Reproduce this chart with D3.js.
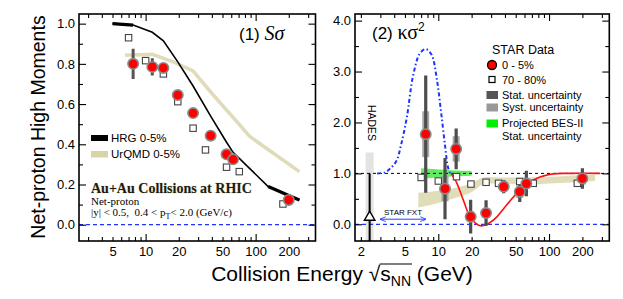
<!DOCTYPE html>
<html>
<head>
<meta charset="utf-8">
<script src="https://cdn.jsdelivr.net/npm/d3@7"></script>
<style>
  body { margin: 0; background: #fff; }
  svg { display: block; font-family: "Liberation Sans", Arial, sans-serif; }
</style>
</head>
<body>
<svg id="chart" width="623" height="299"></svg>
<script>
// beam energies of the STAR points (GeV)
const energies = [7.7, 11.5, 14.5, 19.6, 27, 39, 54.4, 62.4, 200];

// panel 1: S*sigma
const sSigma = [0.80, 0.785, 0.78, 0.645, 0.555, 0.443, 0.350, 0.325, 0.123];
const sSigmaStat = [0.075, 0.043, 0.02, 0.012, 0.01, 0.008, 0.008, 0.008, 0.005];
const sPeriphE = [7.0, 10, 14.5, 19.6, 27, 35, 54.4, 71, 177];
const sPeriph = [0.93, 0.816, 0.75, 0.612, 0.48, 0.372, 0.286, 0.264, 0.103];
const hrgE = [5, 7.7, 11.5, 14.5, 19.6, 27, 39, 54.4, 62.4, 88, 130, 200, 250];
const hrgS = [1.0, 0.993, 0.957, 0.915, 0.81, 0.69, 0.54, 0.41, 0.36, 0.28, 0.19, 0.145, 0.123];
const urqmdE = [6.5, 11.5, 17.8, 27, 39, 62, 88, 125, 250];
const urqmdS = [0.843, 0.847, 0.81, 0.765, 0.66, 0.535, 0.44, 0.38, 0.264];

// panel 2: kappa*sigma^2
const kSigma = [1.77, 0.70, 1.48, 0.15, 0.22, 0.74, 0.64, 0.80, 0.90];
const kStat = [1.15, 0.6, 0.4, 0.33, 0.25, 0.13, 0.2, 0.25, 0.2];
const kSyst = [0.45, 0.25, 0.25, 0.1, 0.08, 0.1, 0.12, 0.1, 0.12];
const kPeriphE = [7.0, 10, 14.6, 19.7, 27, 35, 54.4, 72, 180];
const kPeriph = [0.92, 0.85, 0.935, 0.79, 0.825, 0.805, 0.84, 0.805, 0.805];
const fitE = [13, 14.5, 16.8, 19.3, 21.5, 24, 27, 30, 34, 39, 54.7, 77, 109, 155, 290];
const fitK = [1.0, 0.84, 0.48, 0.15, 0.03, -0.03, -0.01, 0.05, 0.15, 0.31, 0.67, 0.90, 0.99, 1.0, 1.0];
const peakE = [2.8, 3.3, 3.7, 4.2, 4.6, 5.2, 5.9, 6.8, 7.7, 8.7, 9.7, 10.6, 11.5, 12.2, 12.8];
const peakK = [1.0, 1.02, 1.1, 1.25, 1.55, 2.1, 2.9, 3.35, 3.44, 3.33, 2.85, 2.2, 1.55, 1.13, 1.0];
const bandE = [6.6, 10, 14.5, 19.6, 27, 39, 62.4, 100, 200, 260];
const bandHi = [0.62, 0.66, 0.72, 0.80, 0.93, 0.92, 0.92, 0.93, 0.97, 0.98];
const bandLo = [0.33, 0.42, 0.52, 0.62, 0.80, 0.80, 0.78, 0.80, 0.83, 0.85];
const besE = [7, 9, 11.5, 14.5, 20];
const besErr = [0.1, 0.085, 0.07, 0.055, 0.045];
const hades = {e: 2.4, k: 0.14, statHi: 1.0, systHi: 1.41};
const fxtE = [3.0, 7.7];
const fxtK = 0.1;

const xTicksL = [5, 10, 20, 50, 100, 200];
const xTicksR = [2, 5, 10, 20, 50, 100, 200];
const decades = [10, 100];

const svg = d3.select('#chart');
const yTop = 14, yBottom = 241;

const xL = d3.scaleLog().domain([2.48, 350]).range([79, 315.5]);
const yL = d3.scaleLinear().domain([-0.081, 1.048]).range([yBottom, yTop]);
const xR = d3.scaleLog().domain([1.77, 350]).range([355, 609.3]);
const yR = d3.scaleLinear().domain([-0.328, 4.13]).range([yBottom, yTop]);

function minorLog(x) {
  let out = [];
  const [a, b] = x.domain();
  for (let p = 1; p <= 100; p *= 10)
    for (let m = 1; m < 10; m++) {
      const v = m * p;
      if (v >= a && v <= b && !decades.includes(v)) out.push(v);
    }
  return out;
}

function frame(x, y, xLabels, yMajor, yMinor, fmtY) {
  const g = svg.append('g');
  const [x0, x1] = x.range();
  const [y0, y1] = y.range();
  const ax = (gen, tr) => {
    const a = g.append('g').attr('transform', tr).call(gen);
    a.select('.domain').remove();
    a.selectAll('line').attr('stroke', '#000').attr('stroke-width', 1.1);
    a.selectAll('text').attr('font-size', 13).attr('fill', '#000')
      .attr('font-family', '"Liberation Sans", Arial, sans-serif');
    return a;
  };
  ax(d3.axisBottom(x).tickValues(xLabels).tickSize(0).tickPadding(6).tickFormat(d3.format('d')), `translate(0,${y0})`);
  ax(d3.axisBottom(x).tickValues(decades).tickSize(-7).tickFormat(''), `translate(0,${y0})`);
  ax(d3.axisBottom(x).tickValues(minorLog(x)).tickSize(-4).tickFormat(''), `translate(0,${y0})`);
  ax(d3.axisTop(x).tickValues(decades).tickSize(-7).tickFormat(''), `translate(0,${y1})`);
  ax(d3.axisTop(x).tickValues(minorLog(x)).tickSize(-4).tickFormat(''), `translate(0,${y1})`);
  ax(d3.axisLeft(y).tickValues(yMajor).tickSize(-7).tickPadding(4).tickFormat(fmtY), `translate(${x0},0)`);
  ax(d3.axisLeft(y).tickValues(yMinor).tickSize(-4).tickFormat(''), `translate(${x0},0)`);
  ax(d3.axisRight(y).tickValues(yMajor).tickSize(-7).tickFormat(''), `translate(${x1},0)`);
  ax(d3.axisRight(y).tickValues(yMinor).tickSize(-4).tickFormat(''), `translate(${x1},0)`);
  g.append('rect')
    .attr('x', x0).attr('y', y1).attr('width', x1 - x0).attr('height', y0 - y1)
    .attr('fill', 'none').attr('stroke', '#000').attr('stroke-width', 1.6);
}

function clip(id, x, y) {
  svg.append('clipPath').attr('id', id).append('rect')
    .attr('x', x.range()[0]).attr('y', y.range()[1])
    .attr('width', x.range()[1] - x.range()[0]).attr('height', y.range()[0] - y.range()[1]);
  return svg.append('g').attr('clip-path', `url(#${id})`);
}

// ---------- panel 1 ----------
const p1 = clip('c1', xL, yL);

p1.append('path')
  .datum(urqmdE.map((e, i) => [e, urqmdS[i]]))
  .attr('fill', 'none').attr('stroke', '#e0dbbb').attr('stroke-width', 3.6)
  .attr('d', d3.line().x(d => xL(d[0])).y(d => yL(d[1])));

const hrg = hrgE.map((e, i) => [e, hrgS[i]]);
const hrgLine = d3.line().x(d => xL(d[0])).y(d => yL(d[1]));
p1.append('path').datum(hrg)
  .attr('fill', 'none').attr('stroke', '#000').attr('stroke-width', 1.6).attr('d', hrgLine);
[hrg.slice(0, 2), hrg.slice(10)].forEach(seg =>
  p1.append('path').datum(seg)
    .attr('fill', 'none').attr('stroke', '#000').attr('stroke-width', 3.2).attr('d', hrgLine));

p1.append('line')
  .attr('x1', xL.range()[0]).attr('x2', xL.range()[1])
  .attr('y1', yL(0)).attr('y2', yL(0))
  .attr('stroke', '#2233ff').attr('stroke-width', 1.2).attr('stroke-dasharray', '4,3');

p1.selectAll('.stat').data(energies).join('line')
  .attr('x1', d => xL(d)).attr('x2', d => xL(d))
  .attr('y1', (d, i) => yL(sSigma[i] + sSigmaStat[i]))
  .attr('y2', (d, i) => yL(sSigma[i] - sSigmaStat[i]))
  .attr('stroke', '#555').attr('stroke-width', 3);

p1.selectAll('.sq').data(sPeriphE).join('rect')
  .attr('x', d => xL(d) - 3.2).attr('y', (d, i) => yL(sPeriph[i]) - 3.2)
  .attr('width', 6.4).attr('height', 6.4)
  .attr('fill', '#fff').attr('stroke', '#444').attr('stroke-width', 1.1);

p1.selectAll('.pt').data(energies).join('circle')
  .attr('cx', d => xL(d)).attr('cy', (d, i) => yL(sSigma[i]))
  .attr('r', 5.2).attr('fill', '#ff0000').attr('stroke', '#8a8a8a').attr('stroke-width', 1.6);

frame(xL, yL, xTicksL, [0, 0.2, 0.4, 0.6, 0.8, 1.0], [0.1, 0.3, 0.5, 0.7, 0.9], d3.format('.1f'));

svg.append('text').attr('x', 239).attr('y', 40).attr('font-size', 17)
  .text('(1) ')
  .append('tspan').attr('font-family', '"Liberation Serif", serif').attr('font-style', 'italic')
  .attr('font-size', 20).text('Sσ');

// legend 1
svg.append('rect').attr('x', 91).attr('y', 135).attr('width', 17).attr('height', 6).attr('fill', '#000');
svg.append('text').attr('x', 111).attr('y', 142).attr('font-size', 11.5).text('HRG 0-5%');
svg.append('rect').attr('x', 91).attr('y', 151).attr('width', 17).attr('height', 6.5).attr('fill', '#d9d3a8');
svg.append('text').attr('x', 111).attr('y', 158).attr('font-size', 11.5).text('UrQMD 0-5%');

svg.append('text').attr('x', 91).attr('y', 193)
  .attr('font-family', '"Liberation Serif", serif').attr('font-weight', 'bold').attr('font-size', 14)
  .attr('fill', '#1c1c10').attr('stroke', '#d9d3a8').attr('stroke-width', 0.6).attr('paint-order', 'stroke')
  .text('Au+Au Collisions at RHIC');
svg.append('text').attr('x', 91).attr('y', 205)
  .attr('font-family', '"Liberation Serif", serif').attr('font-size', 11).text('Net-proton');
const cut = svg.append('text').attr('x', 91).attr('y', 216)
  .attr('font-family', '"Liberation Serif", serif').attr('font-size', 11)
  .attr('xml:space', 'preserve');
cut.append('tspan').text('|y| < 0.5,  0.4 < p');
cut.append('tspan').attr('dy', 3).attr('font-size', 8).text('T');
cut.append('tspan').attr('dy', -3).text('< 2.0 (GeV/c)');

// ---------- panel 2 ----------
const p2 = clip('c2', xR, yR);

// HADES systematic
p2.append('rect')
  .attr('x', xR(hades.e) - 4).attr('width', 8)
  .attr('y', yR(hades.systHi)).attr('height', yBottom - yR(hades.systHi))
  .attr('fill', '#e3e3e3');

p2.append('path')
  .datum(bandE.map((e, i) => [e, bandLo[i], bandHi[i]]))
  .attr('fill', '#dcd6ae').attr('opacity', 0.85)
  .attr('d', d3.area().x(d => xR(d[0])).y0(d => yR(d[1])).y1(d => yR(d[2])).curve(d3.curveMonotoneX));

p2.append('path')
  .datum(besE.map((e, i) => [e, besErr[i]]))
  .attr('fill', '#44e844').attr('opacity', 0.85)
  .attr('d', d3.area().x(d => xR(d[0])).y0(d => yR(1 - d[1])).y1(d => yR(1 + d[1])).curve(d3.curveMonotoneX));

p2.append('line')
  .attr('x1', xR.range()[0]).attr('x2', xR.range()[1])
  .attr('y1', yR(1)).attr('y2', yR(1))
  .attr('stroke', '#000').attr('stroke-width', 1).attr('stroke-dasharray', '3,3');
p2.append('line')
  .attr('x1', xR.range()[0]).attr('x2', xR.range()[1])
  .attr('y1', yR(0)).attr('y2', yR(0))
  .attr('stroke', '#2233ff').attr('stroke-width', 1.2).attr('stroke-dasharray', '4,3');

p2.append('path')
  .datum(peakE.map((e, i) => [e, peakK[i]]))
  .attr('fill', 'none').attr('stroke', '#1a33ff').attr('stroke-width', 2)
  .attr('stroke-dasharray', '4,2.5,1.5,2.5')
  .attr('d', d3.line().x(d => xR(d[0])).y(d => yR(d[1])).curve(d3.curveCatmullRom));

p2.append('path')
  .datum(fitE.map((e, i) => [e, fitK[i]]))
  .attr('fill', 'none').attr('stroke', '#ff1010').attr('stroke-width', 1.6)
  .attr('d', d3.line().x(d => xR(d[0])).y(d => yR(d[1])).curve(d3.curveCatmullRom));

p2.selectAll('.syst').data(energies).join('rect')
  .attr('x', d => xR(d) - 3.5).attr('width', 7)
  .attr('y', (d, i) => yR(kSigma[i] + kSyst[i]))
  .attr('height', (d, i) => yR(kSigma[i] - kSyst[i]) - yR(kSigma[i] + kSyst[i]))
  .attr('fill', '#9a9a9a').attr('opacity', 0.85);

p2.selectAll('.stat').data(energies).join('line')
  .attr('x1', d => xR(d)).attr('x2', d => xR(d))
  .attr('y1', (d, i) => yR(kSigma[i] + kStat[i]))
  .attr('y2', (d, i) => yR(kSigma[i] - kStat[i]))
  .attr('stroke', '#4d4d4d').attr('stroke-width', 3.2);

p2.selectAll('.sq').data(kPeriphE).join('rect')
  .attr('x', d => xR(d) - 3.2).attr('y', (d, i) => yR(kPeriph[i]) - 3.2)
  .attr('width', 6.4).attr('height', 6.4)
  .attr('fill', '#fff').attr('stroke', '#444').attr('stroke-width', 1.1);

p2.selectAll('.pt').data(energies).join('circle')
  .attr('cx', d => xR(d)).attr('cy', (d, i) => yR(kSigma[i]))
  .attr('r', 5.2).attr('fill', '#ff0000').attr('stroke', '#8a8a8a').attr('stroke-width', 1.6);

// HADES point
p2.append('line')
  .attr('x1', xR(hades.e)).attr('x2', xR(hades.e))
  .attr('y1', yR(hades.statHi)).attr('y2', yBottom)
  .attr('stroke', '#000').attr('stroke-width', 2);
p2.append('path')
  .attr('transform', `translate(${xR(hades.e)},${yR(hades.k)})`)
  .attr('d', d3.symbol(d3.symbolTriangle, 48)())
  .attr('fill', '#fff').attr('stroke', '#000').attr('stroke-width', 1.4);

// STAR FXT arrow
const defs = svg.append('defs');
defs.append('marker').attr('id', 'ah').attr('viewBox', '0 0 10 10')
  .attr('refX', 9).attr('refY', 5).attr('markerWidth', 6).attr('markerHeight', 6)
  .attr('orient', 'auto-start-reverse')
  .append('path').attr('d', 'M0,1 L10,5 L0,9').attr('fill', 'none').attr('stroke', '#2244ff').attr('stroke-width', 1.5);
svg.append('line')
  .attr('x1', xR(fxtE[0])).attr('x2', xR(fxtE[1]))
  .attr('y1', yR(fxtK)).attr('y2', yR(fxtK))
  .attr('stroke', '#2244ff').attr('stroke-width', 1)
  .attr('marker-start', 'url(#ah)').attr('marker-end', 'url(#ah)');
svg.append('text')
  .attr('x', (xR(fxtE[0]) + xR(fxtE[1])) / 2).attr('y', yR(fxtK) - 4)
  .attr('text-anchor', 'middle').attr('font-size', 8).text('STAR FXT');

svg.append('text')
  .attr('transform', 'translate(368,123) rotate(90)')
  .attr('text-anchor', 'middle').attr('font-size', 10.5).text('HADES');

frame(xR, yR, xTicksR, [0, 1, 2, 3, 4], [0.5, 1.5, 2.5, 3.5], d3.format('.1f'));

const t2 = svg.append('text').attr('x', 372).attr('y', 39).attr('font-size', 17).text('(2) ');
t2.append('tspan').attr('font-family', '"Liberation Serif", serif').attr('font-size', 20).text('κσ');
t2.append('tspan').attr('font-size', 12).attr('dy', -8).text('2');

// legend 2
svg.append('text').attr('x', 492).attr('y', 54).attr('font-size', 12.5).text('STAR Data');
svg.append('circle').attr('cx', 492).attr('cy', 65).attr('r', 4.5)
  .attr('fill', '#ff0000').attr('stroke', '#000').attr('stroke-width', 1.3);
svg.append('text').attr('x', 502).attr('y', 69).attr('font-size', 11).text('0 - 5%');
svg.append('rect').attr('x', 489).attr('y', 76.5).attr('width', 6).attr('height', 6)
  .attr('fill', '#fff').attr('stroke', '#000').attr('stroke-width', 1.2);
svg.append('text').attr('x', 502).attr('y', 84).attr('font-size', 11).text('70 - 80%');
const legRows = [
  {c: '#555', y: 91, t: ['Stat. uncertainty']},
  {c: '#999', y: 103.5, t: ['Syst. uncertainty']},
  {c: '#00ee00', y: 119.5, t: ['Projected BES-II', 'Stat. uncertainty']}
];
legRows.forEach(r => {
  svg.append('rect').attr('x', 486.5).attr('y', r.y).attr('width', 11.5).attr('height', 8).attr('fill', r.c);
  r.t.forEach((s, j) => svg.append('text').attr('x', 502).attr('y', r.y + 7.5 + j * 13)
    .attr('font-size', 11).text(s));
});

// axis titles
svg.append('text')
  .attr('transform', 'translate(45,127) rotate(-90)')
  .attr('text-anchor', 'middle').attr('font-size', 19.5).text('Net-proton High Moments');

const xt = svg.append('text').attr('x', 342).attr('y', 281)
  .attr('text-anchor', 'middle').attr('font-size', 21);
xt.append('tspan').text('Collision Energy ');
xt.append('tspan').text('√');
xt.append('tspan').text('s');
xt.append('tspan').attr('font-size', 14).attr('dy', 5).text('NN');
xt.append('tspan').attr('dy', -5).text(' (GeV)');
// overbar of the square root
const node = xt.node();
const ir = node.textContent.indexOf('√');
const rb = node.getExtentOfChar(ir);
const nb = node.getExtentOfChar(ir + 3);
svg.append('line')
  .attr('x1', rb.x + rb.width - 0.5).attr('x2', nb.x + nb.width + 1)
  .attr('y1', rb.y + 2).attr('y2', rb.y + 2)
  .attr('stroke', '#000').attr('stroke-width', 1.1);
</script>
</body>
</html>
